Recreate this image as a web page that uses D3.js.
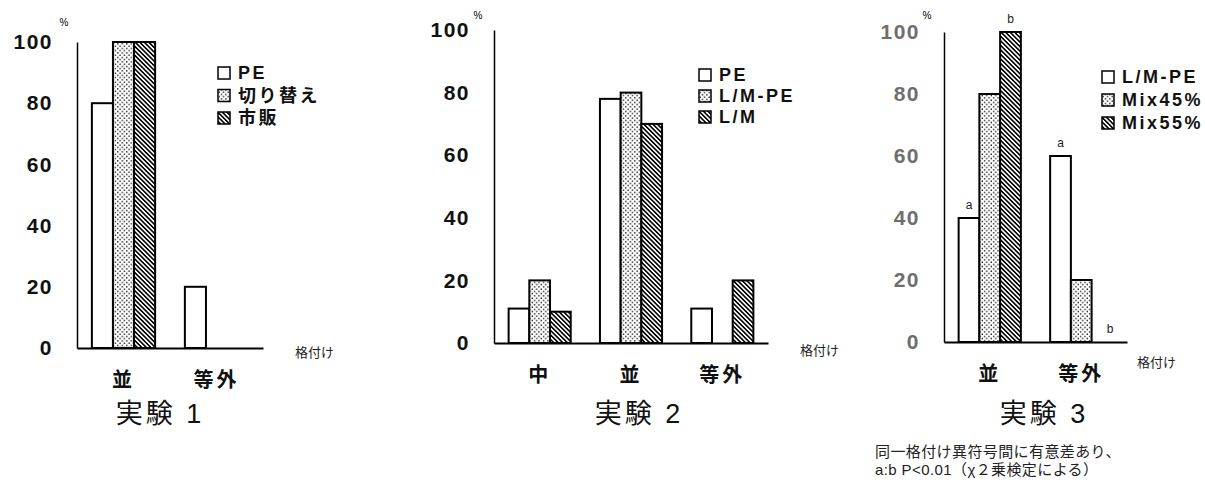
<!DOCTYPE html>
<html>
<head>
<meta charset="utf-8">
<script src="https://cdn.jsdelivr.net/npm/d3@7"></script>
<style>
  body { margin: 0; background: #fff; }
  text { font-family: "Liberation Sans", "Noto Sans CJK JP", sans-serif; }
</style>
</head>
<body>
<div id="chart"></div>
<script>
const W = 1205;
const H = 484;

// 実験 1
const exp1Grades = ['並', '等外'];
const exp1Series = ['PE', '切り替え', '市販'];
const exp1Values = [[80, 100, 100], [20, 0, 0]];

// 実験 2
const exp2Grades = ['中', '並', '等外'];
const exp2Series = ['PE', 'L/M-PE', 'L/M'];
const exp2Values = [[11, 20, 10], [78, 80, 70], [11, 0, 20]];

// 実験 3
const exp3Grades = ['並', '等外'];
const exp3Series = ['L/M-PE', 'Mix45%', 'Mix55%'];
const exp3Values = [[40, 80, 100], [60, 20, 0]];
const exp3Marks = [['並', 'L/M-PE', 'a'], ['並', 'Mix55%', 'b'], ['等外', 'L/M-PE', 'a'], ['等外', 'Mix55%', 'b']];

const yTicks = [0, 20, 40, 60, 80, 100];
const note = ['同一格付け異符号間に有意差あり、', 'a:b P<0.01（χ２乗検定による）'];

const svg = d3.select('#chart').append('svg').attr('width', W).attr('height', H);

// fill patterns
const defs = svg.append('defs');
const dots = defs.append('pattern').attr('id', 'dots').attr('patternUnits', 'userSpaceOnUse')
    .attr('width', 4.5).attr('height', 4.5);
dots.append('rect').attr('width', 4.5).attr('height', 4.5).attr('fill', '#fff');
dots.append('rect').attr('x', 0.5).attr('y', 0.5).attr('width', 1.3).attr('height', 1.3).attr('fill', '#000');
dots.append('rect').attr('x', 2.75).attr('y', 2.75).attr('width', 1.3).attr('height', 1.3).attr('fill', '#000');

const hatch = defs.append('pattern').attr('id', 'hatch').attr('patternUnits', 'userSpaceOnUse')
    .attr('width', 3.2).attr('height', 10).attr('patternTransform', 'rotate(-45)');
hatch.append('rect').attr('width', 3.2).attr('height', 10).attr('fill', '#fff');
hatch.append('line').attr('x1', 0.8).attr('x2', 0.8).attr('y1', 0).attr('y2', 10)
    .attr('stroke', '#000').attr('stroke-width', 1.6);

const fills = ['#fff', 'url(#dots)', 'url(#hatch)'];

const drawPanel = (p) => {
    const g = svg.append('g');

    const x0 = d3.scaleBand().domain(p.grades).range([p.left, p.right])
        .paddingInner(0.32).paddingOuter(0.16);
    const x1 = d3.scaleBand().domain(p.series).range([0, x0.bandwidth()]);
    const y = d3.scaleLinear().domain([0, 100]).range([p.bottom, p.top]);

    // y axis
    const yAxis = g.append('g').attr('transform', `translate(${p.left},0)`)
        .call(d3.axisLeft(y).tickValues(yTicks).tickSize(0).tickSizeOuter(0).tickPadding(24));
    yAxis.select('.domain').attr('stroke', '#000').attr('stroke-width', 1.5);
    yAxis.selectAll('text')
        .attr('font-size', 21).attr('font-weight', 'bold').attr('letter-spacing', 1.5)
        .attr('fill', p.tickColor);

    // bars
    p.grades.forEach((grade, i) => {
        const grp = g.append('g').attr('transform', `translate(${x0(grade)},0)`);
        grp.selectAll('rect')
            .data(p.values[i].map((v, j) => ({ s: p.series[j], v: v, j: j })).filter(d => d.v > 0))
            .enter()
            .append('rect')
            .attr('x', d => x1(d.s))
            .attr('y', d => y(d.v))
            .attr('width', x1.bandwidth())
            .attr('height', d => y(0) - y(d.v))
            .attr('fill', d => fills[d.j])
            .attr('stroke', '#000')
            .attr('stroke-width', 2);
    });

    // x axis
    const xAxis = g.append('g').attr('transform', `translate(0,${p.bottom})`)
        .call(d3.axisBottom(x0).tickSize(0).tickSizeOuter(0).tickPadding(25));
    xAxis.select('.domain').attr('stroke', '#000').attr('stroke-width', 2);
    xAxis.selectAll('text')
        .attr('font-size', 20).attr('font-weight', 'bold').attr('letter-spacing', 3)
        .attr('fill', '#111');

    // legend
    const leg = g.selectAll('.leg').data(p.series).enter().append('g')
        .attr('transform', (d, i) => `translate(${p.legX},${p.legY + i * p.legDy})`);
    leg.append('rect').attr('x', 0).attr('y', -6).attr('width', 12).attr('height', 12)
        .attr('fill', (d, i) => fills[i]).attr('stroke', '#000').attr('stroke-width', 1.5);
    leg.append('text').attr('x', 20).attr('y', 0).attr('dy', '0.36em')
        .attr('font-size', 18).attr('font-weight', 'bold').attr('letter-spacing', 2.5)
        .attr('fill', '#111').text(d => d);

    // unit and axis name
    g.append('text').attr('x', p.unitX).attr('y', p.unitY).attr('font-size', 10)
        .attr('text-anchor', 'middle').attr('dy', '0.35em').text('%');
    g.append('text').attr('x', p.nameX).attr('y', p.nameY).attr('font-size', 13)
        .attr('dy', '0.35em').attr('fill', '#222').text('格付け');

    // title
    g.append('text').attr('x', p.titleX).attr('y', 414).attr('font-size', 27)
        .attr('text-anchor', 'middle').attr('dy', '0.35em').attr('letter-spacing', 3)
        .attr('fill', '#111').text(p.title);

    return { x0, x1, y, g };
};

drawPanel({
    grades: exp1Grades, series: exp1Series, values: exp1Values,
    left: 77, right: 263, top: 42, bottom: 348, tickColor: '#111',
    legX: 218, legY: 73, legDy: 22.5,
    unitX: 64, unitY: 22, nameX: 295, nameY: 352,
    title: '実験 1', titleX: 160
});

drawPanel({
    grades: exp2Grades, series: exp2Series, values: exp2Values,
    left: 494, right: 768, top: 30, bottom: 343, tickColor: '#111',
    legX: 699, legY: 75, legDy: 21,
    unitX: 478, unitY: 15, nameX: 800, nameY: 350,
    title: '実験 2', titleX: 639
});

const p3 = drawPanel({
    grades: exp3Grades, series: exp3Series, values: exp3Values,
    left: 944, right: 1127, top: 32, bottom: 342, tickColor: '#6e6e6e',
    legX: 1102, legY: 77, legDy: 23,
    unitX: 927, unitY: 15, nameX: 1137, nameY: 362,
    title: '実験 3', titleX: 1044
});

// significance letters
p3.g.selectAll('.mark').data(exp3Marks).enter().append('text')
    .attr('x', d => p3.x0(d[0]) + p3.x1(d[1]) + p3.x1.bandwidth() / 2 + (d[0] === '等外' && d[2] === 'b' ? 8 : 0))
    .attr('y', d => p3.y(exp3Values[exp3Grades.indexOf(d[0])][exp3Series.indexOf(d[1])]) - 9)
    .attr('text-anchor', 'middle').attr('font-size', 12).attr('fill', '#222')
    .text(d => d[2]);

// footnote
svg.append('g').selectAll('text').data(note).enter().append('text')
    .attr('x', 875).attr('y', (d, i) => 457 + i * 18)
    .attr('font-size', 15).attr('letter-spacing', 0.4).attr('fill', '#222')
    .attr('font-family', '"Noto Sans CJK JP", sans-serif')
    .text(d => d);
</script>
</body>
</html>
